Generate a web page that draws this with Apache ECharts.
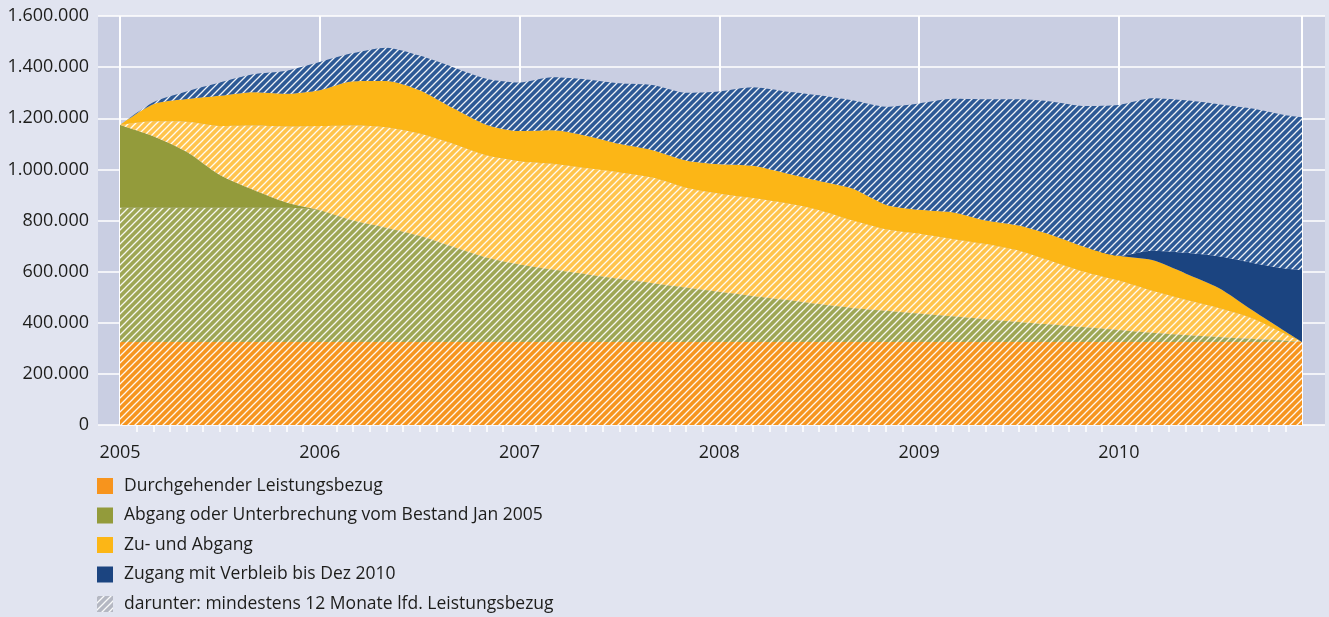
<!DOCTYPE html>
<html lang="de">
<head>
<meta charset="UTF-8">
<title>Leistungsbezug 2005-2010</title>
<script src="https://cdn.jsdelivr.net/npm/echarts@6/dist/echarts.min.js"></script>
<style>
  html, body { margin: 0; padding: 0; background: #e1e4f0; }
  #main { width: 1329px; height: 617px; }
</style>
</head>
<body>
<div id="main"></div>
<script>
  // month index, 0 = Jan 2005, 71 = Dez 2010
  var months = [0, 2, 4, 6, 8, 10, 12, 14, 16, 18, 20, 22, 24, 26, 28, 30, 32, 34, 36,
    38, 40, 42, 44, 46, 48, 50, 52, 54, 56, 58, 60, 62, 64, 66, 68, 70, 71];
  var yearLabels = ['2005', '2006', '2007', '2008', '2009', '2010'];

  // values in thousand persons, stacked from bottom to top
  var durchgehend = [325, 325, 325, 325, 325, 325, 325, 325, 325, 325, 325, 325, 325, 325, 325, 325, 325, 325, 325,
    325, 325, 325, 325, 325, 325, 325, 325, 325, 325, 325, 325, 325, 325, 325, 325, 325, 325];
  var abgangLang = [525, 525, 525, 525, 525, 525, 515, 475, 447, 415, 372, 330, 303, 283, 265, 247, 230, 213, 196,
    180, 165, 148, 133, 122, 111, 100, 89, 78, 68, 57, 47, 36, 27, 19, 12, 5, 0];
  var abgangKurz = [324, 280, 219, 128, 70, 20, 0, 0, 0, 0, 0, 0, 0, 0, 0, 0, 0, 0, 0,
    0, 0, 0, 0, 0, 0, 0, 0, 0, 0, 0, 0, 0, 0, 0, 0, 0, 0];
  var zuAbgangLang = [0, 58, 117, 192, 252, 298, 330, 372, 393, 400, 403, 400, 404, 414, 415, 416, 413, 390, 384,
    383, 378, 367, 342, 319, 312, 303, 294, 279, 247, 216, 193, 164, 138, 114, 81, 26, 0];
  var zuAbgangKurz = [0, 67, 89, 118, 130, 128, 140, 173, 181, 170, 140, 120, 118, 131, 127, 112, 107, 107, 115,
    126, 117, 115, 125, 96, 94, 104, 92, 98, 102, 97, 97, 120, 103, 78, 32, 10, 0];
  var zugangKurz = [0, 0, 0, 0, 0, 0, 0, 0, 0, 0, 0, 0, 0, 0, 0, 0, 0, 0, 0,
    0, 0, 0, 0, 0, 0, 0, 0, 0, 0, 0, 0, 37, 81, 124, 185, 246, 281];
  var zugangLang = [0, 8, 30, 52, 70, 90, 110, 110, 130, 135, 160, 180, 190, 207, 220, 237, 255, 265, 285,
    307, 320, 335, 345, 383, 416, 444, 474, 494, 523, 553, 590, 596, 596, 595, 603, 600, 598];

  var names = [
    'Durchgehender Leistungsbezug',
    'Abgang oder Unterbrechung vom Bestand Jan 2005',
    'Zu- und Abgang',
    'Zugang mit Verbleib bis Dez 2010',
    'darunter: mindestens 12 Monate lfd. Leistungsbezug'
  ];

  // one category per month
  var monthCats = [];
  yearLabels.forEach(function (y) {
    for (var mm = 1; mm <= 12; mm++) monthCats.push(y + '-' + (mm < 10 ? '0' : '') + mm);
  });
  var lastIdx = monthCats.length - 1;

  var font = 'Open Sans';
  var textColor = '#1d1d1b';

  // diagonal white hatch on a base colour
  function hatch(base) {
    var s = 7;
    var c = document.createElement('canvas');
    c.width = s; c.height = s;
    var ctx = c.getContext('2d');
    ctx.fillStyle = base;
    ctx.fillRect(0, 0, s, s);
    ctx.strokeStyle = 'rgba(255,255,255,0.92)';
    ctx.lineWidth = 1.3;
    ctx.beginPath();
    ctx.moveTo(-1, s + 1); ctx.lineTo(s + 1, -1);
    ctx.moveTo(-1, 1); ctx.lineTo(1, -1);
    ctx.moveTo(s - 1, s + 1); ctx.lineTo(s + 1, s - 1);
    ctx.stroke();
    return { image: c, repeat: 'repeat' };
  }

  function pairs(vals) {
    return months.map(function (m, i) { return [m, vals[i]]; });
  }

  function layer(name, vals, fill) {
    return {
      name: name,
      type: 'line',
      xAxisIndex: 1,
      yAxisIndex: 1,
      stack: 'bestand',
      smooth: 0.25,
      showSymbol: false,
      lineStyle: { width: 0 },
      itemStyle: { color: fill },
      areaStyle: { color: fill, opacity: 1 },
      data: pairs(vals)
    };
  }

  function fmtNum(v) {
    return String(v * 1000).replace(/\B(?=(\d{3})+(?!\d))/g, '.');
  }

  var chartDom = document.getElementById('main');
  var myChart = echarts.init(chartDom);
  var option = {
    backgroundColor: '#e1e4f0',
    animation: false,
    grid: [
      { left: 98, right: 4, top: 16, bottom: 192, show: true, backgroundColor: '#c9cee2', borderWidth: 0 },
      { left: 120, right: 27, top: 16, bottom: 192 }
    ],
    xAxis: [
      { gridIndex: 0, type: 'value', min: 0, max: 1, show: false },
      {
        gridIndex: 1, type: 'category', data: monthCats, boundaryGap: false, position: 'bottom',
        axisLine: { show: false },
        axisTick: {
          show: true, length: 7,
          interval: function (i) { return i % 12 !== 0 && i !== lastIdx; },
          lineStyle: { color: '#ffffff', width: 1.5 }
        },
        splitLine: {
          show: true,
          interval: function (i) { return i % 12 === 0 || i === lastIdx; },
          lineStyle: { color: '#ffffff', width: 2 }
        },
        axisLabel: {
          margin: 19,
          interval: function (i) { return i % 12 === 0; },
          fontFamily: font, fontSize: 18, color: textColor,
          formatter: function (v) { return v.slice(0, 4); }
        }
      }
    ],
    yAxis: [
      {
        gridIndex: 0, type: 'value', min: 0, max: 1600, interval: 200,
        axisLine: { show: false },
        axisTick: { show: false },
        splitLine: { show: true, lineStyle: { color: '#ffffff', width: 1.5 } },
        axisLabel: { margin: 9, fontFamily: font, fontSize: 18, color: textColor, formatter: fmtNum }
      },
      { gridIndex: 1, type: 'value', min: 0, max: 1600, show: false }
    ],
    legend: {
      orient: 'vertical',
      left: 97,
      top: 477,
      height: 200,
      padding: 0,
      itemWidth: 16,
      itemHeight: 16,
      itemGap: 11.5,
      icon: 'rect',
      selectedMode: false,
      textStyle: { fontFamily: font, fontSize: 17.5, color: textColor, lineHeight: 16, padding: [0, 0, 0, 6] },
      data: [
        { name: names[0], itemStyle: { color: '#f7941d' } },
        { name: names[1], itemStyle: { color: '#939b3b' } },
        { name: names[2], itemStyle: { color: '#fcb616' } },
        { name: names[3], itemStyle: { color: '#1b4480' } },
        { name: names[4], itemStyle: { color: hatch('#b5b8c3') } }
      ]
    },
    series: [
      layer(names[0], durchgehend, hatch('#f6951f')),
      layer(names[1] + ' (12 Monate)', abgangLang, hatch('#9ea655')),
      layer(names[1], abgangKurz, '#939b3b'),
      layer(names[2] + ' (12 Monate)', zuAbgangLang, hatch('#ffc44d')),
      layer(names[2], zuAbgangKurz, '#fcb616'),
      layer(names[3], zugangKurz, '#1b4480'),
      layer(names[3] + ' (12 Monate)', zugangLang, hatch('#2d5995')),
      { name: names[4], type: 'line', xAxisIndex: 1, yAxisIndex: 1, data: [] }
    ]
  };
  option && myChart.setOption(option);

  window.addEventListener('resize', function () {
    myChart.resize();
  });
</script>
</body>
</html>
